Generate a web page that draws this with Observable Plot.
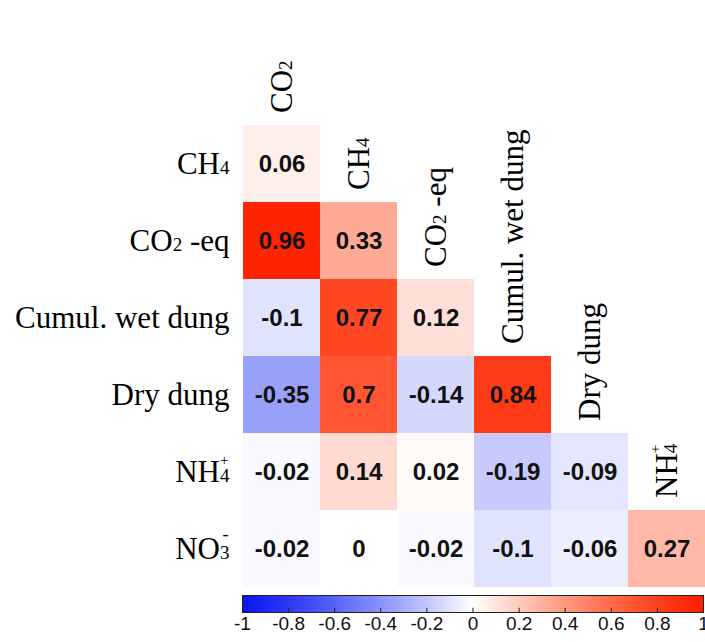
<!DOCTYPE html>
<html>
<head>
<meta charset="utf-8">
<script src="https://cdn.jsdelivr.net/npm/d3@7"></script>
<script src="https://cdn.jsdelivr.net/npm/@observablehq/plot@0.6"></script>
<style>
  html, body { margin: 0; padding: 0; background: #fff; }
  #chart svg { display: block; }
</style>
</head>
<body>
<div id="chart"></div>
<script>
// ---- Data ----
const columns = ["CO2", "CH4", "CO2 -eq", "Cumul. wet dung", "Dry dung", "NH4+"];
const rows = ["CH4", "CO2 -eq", "Cumul. wet dung", "Dry dung", "NH4+", "NO3-"];
const rowCH4 = [0.06];
const rowCO2eq = [0.96, 0.33];
const rowCumulWetDung = [-0.1, 0.77, 0.12];
const rowDryDung = [-0.35, 0.7, -0.14, 0.84];
const rowNH4 = [-0.02, 0.14, 0.02, -0.19, -0.09];
const rowNO3 = [-0.02, 0, -0.02, -0.1, -0.06, 0.27];
const legendTicks = [-1, -0.8, -0.6, -0.4, -0.2, 0, 0.2, 0.4, 0.6, 0.8, 1];
const colorDomain = [-1, 0, 1];
const colorRange = ["#0a16f2", "#ffffff", "#ff1e00"];

const rowValues = [rowCH4, rowCO2eq, rowCumulWetDung, rowDryDung, rowNH4, rowNO3];
const cells = [];
rows.forEach((r, i) => rowValues[i].forEach((v, j) => cells.push({row: r, col: columns[j], value: v})));
const colLabels = columns.map((c, i) => ({col: c, row: rows[i]}));

const serif = "'Liberation Serif', 'Times New Roman', Times, serif";
const sans = "'Liberation Sans', Arial, Helvetica, sans-serif";
const colorOpts = {type: "linear", domain: colorDomain, range: colorRange, interpolate: d3.interpolateRgb.gamma(0.75)};

const matrix = Plot.plot({
  width: 705, height: 587,
  marginLeft: 243, marginRight: 0, marginTop: 125, marginBottom: 0,
  style: {background: "#fff", overflow: "visible"},
  x: {domain: columns, padding: 0, axis: null},
  y: {domain: rows, padding: 0},
  color: colorOpts,
  marks: [
    Plot.cell(cells, {x: "col", y: "row", fill: "value", inset: 0}),
    Plot.text(cells, {x: "col", y: "row", text: d => String(d.value), fontSize: 24, fontWeight: "bold", fontFamily: sans, fill: "#111"}),
    Plot.text(colLabels, {x: "col", y: "row", text: "col", rotate: -90, textAnchor: "start", dy: -51, fontSize: 31, fontFamily: serif, fill: "#000"}),
    Plot.axisY({tickSize: 0, tickPadding: 14, fontSize: 31, fontFamily: serif, label: null, fill: "#000"})
  ]
});

const legend = Plot.plot({
  width: 705, height: 55,
  marginLeft: 242, marginRight: 2, marginTop: 8, marginBottom: 30,
  style: {background: "#fff", overflow: "visible"},
  x: {domain: [-1, 1]},
  y: {domain: [0, 1], axis: null},
  color: colorOpts,
  marks: [
    Plot.raster({x1: -1, x2: 1, y1: 0, y2: 1, width: 461, height: 1, fill: (x, y) => x}),
    Plot.frame({stroke: "#222", strokeWidth: 1}),
    Plot.ruleX(legendTicks, {x: d => d, y1: 0, y2: 0.25, stroke: "#222"}),
    Plot.axisX({ticks: legendTicks, tickSize: 0, tickPadding: 4, tickFormat: d => String(d), fontSize: 19, fontFamily: sans, label: null, fill: "#111"})
  ]
});

// rich text for chemical formulas
const SUB = 19, SUPW = 9.5;
const rich = {
  "CO2": [["CO"], ["2", {size: SUB}]],
  "CH4": [["CH"], ["4", {size: SUB}]],
  "CO2 -eq": [["CO"], ["2", {size: SUB}], [" -eq"]],
  "NH4+": [["NH"], ["4", {size: SUB}], ["+", {size: 15, dx: -SUPW, dy: -17}]],
  "NO3-": [["NO"], ["3", {size: SUB}], ["-", {size: 18, dx: -7, dy: -19}]]
};
function applyRich(svg) {
  svg.querySelectorAll("text").forEach(t => {
    const parts = rich[t.textContent];
    if (!parts) return;
    t.textContent = "";
    for (const [s, o] of parts) {
      const ts = document.createElementNS("http://www.w3.org/2000/svg", "tspan");
      ts.textContent = s;
      if (o && o.size) ts.setAttribute("font-size", o.size);
      if (o && o.dx) ts.setAttribute("dx", o.dx);
      if (o && o.dy) ts.setAttribute("dy", o.dy);
      t.appendChild(ts);
    }
  });
}
applyRich(matrix);

document.getElementById("chart").append(matrix, legend);
</script>
</body>
</html>
